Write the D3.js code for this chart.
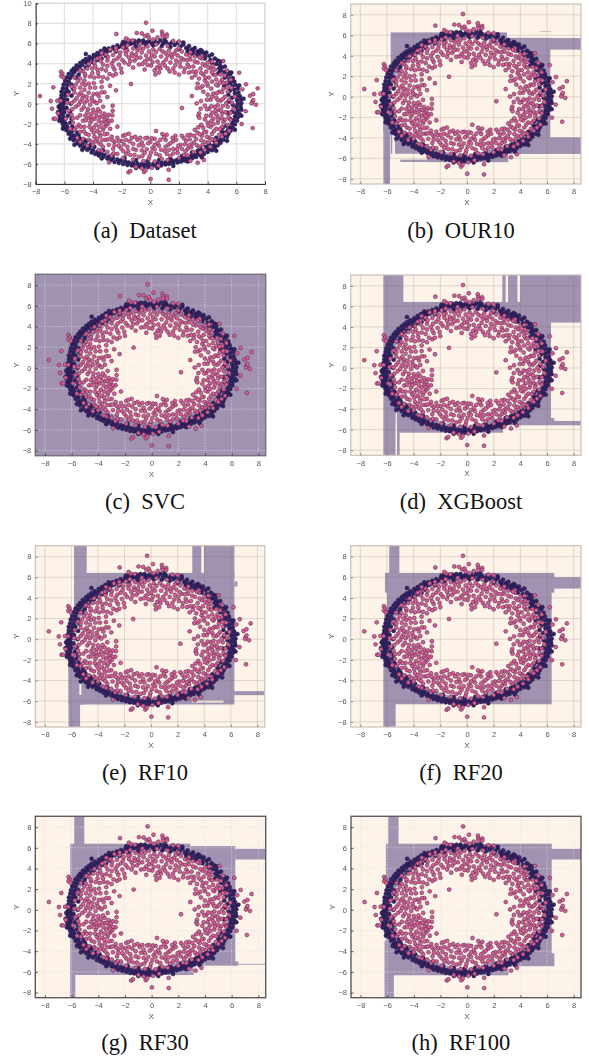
<!DOCTYPE html>
<html>
<head>
<meta charset="utf-8">
<script src="https://cdnjs.cloudflare.com/ajax/libs/d3/7.8.5/d3.min.js"></script>
<style>
  html, body { margin: 0; padding: 0; background: #fff; }
  svg { display: block; }
</style>
</head>
<body>
<div id="chart"></div>
<script>
const width = 589;
const height = 1059;

const darkFill = "#33215f";
const pinkFill = "#d65f92";
const purple = "#a092b0";
const cream = "#fdf3e8";

// points, the same set is in every panel
const darkRing = [
[-0.1,6.2],[0.1,6.0],[0.3,6.25],[0.5,6.05],[0.7,6.3],[0.9,6.0],[1.1,6.15],[1.3,5.9],[1.5,6.1],[1.7,5.85],[1.9,6.05],[2.1,5.7],[2.3,5.9],[2.5,5.55],[2.7,5.75],[2.9,5.4],[3.1,5.55],[3.3,5.2],[3.5,5.35],[3.7,5.0],[3.9,5.1],[4.1,4.75],[4.3,4.9],[4.5,4.5],[4.2,4.35],[3.8,4.8],[3.4,5.05],[3.0,5.2],[2.6,5.4],[4.7,4.3],[4.6,3.95],[4.85,3.85],[5.0,3.6],[5.2,3.7],[4.9,3.3],[5.15,3.15],[5.4,3.2],[5.3,2.8],[5.55,2.9],[5.5,2.45],[5.75,2.55],[5.6,2.1],[5.85,2.2],[5.7,1.75],[5.95,1.85],[5.85,1.4],[6.1,1.5],[5.9,1.05],[6.15,1.1],[6.0,0.7],[6.25,0.75],[6.05,0.35],[6.3,0.4],[6.1,0.0],[6.35,0.05],[6.0,-0.3],[6.3,-0.3],[6.1,-0.65],[6.35,-0.6],[5.95,-0.95],[6.2,-1.0],[5.9,-1.3],[6.1,-1.35],[5.8,-1.65],[6.05,-1.7],[5.7,-2.0],[5.9,-2.05],[5.55,-2.35],[5.75,-2.4],[5.4,-2.65],[5.6,-2.7],[5.2,-2.9],[5.45,-3.0],[5.1,-3.25],[5.35,-3.3],[4.9,-3.55],[5.1,-3.6],[4.7,-3.8],[4.9,-3.9],[4.5,-4.05],[4.7,-4.15],[4.3,-4.25],[4.5,-4.4],[4.1,-4.5],[4.3,-4.65],[3.85,-4.6],[4.0,-4.8],[3.6,-4.8],[3.75,-5.0],[3.35,-4.95],[3.5,-5.15],[3.1,-5.1],[3.2,-5.3],[2.85,-5.2],[2.95,-5.4],[2.6,-5.35],[2.7,-5.55],[2.35,-5.45],[2.4,-5.65],[2.1,-5.5],[2.15,-5.75],[1.85,-5.6],[1.9,-5.85],[1.6,-5.7],[1.6,-5.95],[1.35,-5.8],[1.3,-6.0],[1.05,-5.85],[1.05,-6.05],[0.8,-5.9],[0.75,-6.15],[0.5,-5.95],[0.45,-6.2],[0.2,-6.0],[0.15,-6.25],[-0.1,-6.0],[-0.15,-6.3],[-0.35,-6.05],[-0.45,-6.3],[-0.6,-6.0],[-0.75,-6.25],[-0.9,-5.95],[-1.05,-6.2],[-1.2,-5.9],[-1.3,-6.15],[-1.5,-5.85],[-1.6,-6.1],[-1.75,-5.75],[-1.9,-6.0],[-2.05,-5.65],[-2.2,-5.9],[-2.3,-5.55],[-2.5,-5.8],[-2.6,-5.4],[-2.75,-5.6],[-2.9,-5.25],[-3.0,-5.45],[-3.2,-5.1],[-3.3,-5.3],[-3.45,-4.95],[-3.6,-5.15],[-3.7,-4.8],[-3.85,-5.0],[-4.0,-4.65],[-4.1,-4.85],[-4.25,-4.45],[-4.4,-4.6],[-4.5,-4.25],[-4.65,-4.4],[-4.75,-4.0],[-4.9,-4.2],[-5.0,-3.8],[-5.1,-3.95],[-5.2,-3.5],[-5.35,-3.65],[-5.3,-3.2],[-5.5,-3.3],[-5.5,-2.9],[-5.7,-3.0],[-5.65,-2.6],[-5.85,-2.65],[-5.8,-2.3],[-6.05,-2.35],[-5.9,-2.0],[-6.1,-2.05],[-6.0,-1.7],[-6.2,-1.75],[-6.05,-1.4],[-6.3,-1.45],[-6.1,-1.1],[-6.35,-1.15],[-6.0,-0.85],[-6.25,-0.8],[-6.45,-0.85],[-6.05,-0.5],[-6.3,-0.5],[-6.1,-0.2],[-6.3,-0.15],[-6.0,0.1],[-6.2,0.15],[-6.05,0.45],[-6.25,0.5],[-5.95,0.8],[-6.2,0.85],[-5.95,1.15],[-6.2,1.2],[-5.85,1.5],[-6.1,1.55],[-5.8,1.85],[-6.05,1.9],[-5.7,2.2],[-5.95,2.25],[-5.6,2.55],[-5.85,2.6],[-5.45,2.85],[-5.7,2.95],[-5.3,3.15],[-5.5,3.25],[-5.15,3.4],[-5.35,3.5],[-4.95,3.65],[-5.15,3.8],[-4.75,3.85],[-4.9,4.05],[-4.5,4.1],[-4.7,4.25],[-4.3,4.3],[-4.5,4.45],[-4.5,4.95],[-4.05,4.5],[-4.25,4.65],[-3.8,4.7],[-3.95,4.85],[-3.55,4.85],[-3.7,5.05],[-3.3,5.0],[-3.45,5.25],[-3.05,5.15],[-3.15,5.35],[-2.8,5.3],[-2.9,5.5],[-2.5,5.45],[-2.6,5.65],[-2.25,5.6],[-2.3,5.8],[-2.0,5.7],[-1.95,5.95],[-1.7,5.85],[-1.7,6.1],[-1.4,5.95],[-1.4,6.2],[-1.15,6.0],[-1.1,6.25],[-0.85,6.05],[-0.8,6.3],[-0.55,6.05],[-0.5,6.3],[-0.3,6.1]
];
const darkInner = [
[0.2,5.8],[0.8,5.75],[1.4,5.65],[2,5.45],[2.6,5.15],[3.2,4.85],[3.8,4.5],[4.3,4.05],[4.8,3.5],[5.2,2.6],[5.4,2],[5.55,1.3],[5.7,0.6],[5.75,-0.1],[5.7,-0.8],[5.55,-1.5],[5.3,-2.2],[5,-2.8],[4.6,-3.4],[4.1,-4],[3.5,-4.5],[2.9,-4.85],[2.2,-5.2],[1.4,-5.45],[0.6,-5.6],[-0.2,-5.7],[-1,-5.6],[-1.8,-5.4],[-2.6,-5.05],[-3.3,-4.65],[-3.9,-4.3],[-4.5,-3.8],[-5,-3.2],[-5.3,-2.6],[-5.6,-1.9],[-5.75,-1.2],[-5.85,-0.4],[-5.8,0.4],[-5.7,1.2],[-5.5,1.9],[-5.2,2.6],[-4.8,3.3],[-4.3,3.85],[-3.7,4.35],[-3.1,4.75],[-2.4,5.2],[-1.7,5.5],[-1,5.7],[-0.3,5.85],
[-4.9,-3.5],[-4.6,-3.6],[-4.2,-4.15],[-5.1,-2.9],[-5.45,-2.3],[-5.5,-1.5],[-5.6,-0.8],[-5.55,0],[-5.5,0.8],[-5.4,1.5],[-5.0,2.9],[-4.5,3.6],[-4.0,4.1],[-3.4,4.5],[5.45,0.2],[5.4,-0.9],[5.45,0.9],[5.15,1.8],[5.05,-2.4],[4.75,3.05],[4.4,-3.65],[3.9,-4.3],[3.3,-4.7],[3.45,4.65],[2.9,5.0],[-6.4,-0.3],[-6.35,-1.7],[-6.1,-2.5],[-5.3,-4.1],[-5.6,-3.5],[-4.75,-4.6],[-3.4,-5.45],[-1.0,-6.4],[0.5,-6.4],[1.6,-6.2],[2.6,-5.75],[3.6,-5.35],[4.6,-4.7],[5.35,-3.7],[5.9,-2.6],[6.35,-1.2],[6.5,0.5],[6.2,1.8],[5.65,3.1],[4.9,4.2],[3.6,5.25],[2.3,6.1],[1.0,6.35],[-1.9,6.15],[-3.2,5.5]
];

const pinkOutliers = [
[-7.7,0.76],[-6.95,0.27],[-6.86,-0.5],[-6.77,1.63],[-6.74,-1.5],[-6.63,-1.5],[-6.49,0.3],[-6.25,0.3],[-6.44,-0.96],[-6.23,3.19],[-6.14,2.96],[-6.23,2.76],[-6.07,2.62],[6.95,0.8],[7.18,0.96],[7.49,1.53],[6.67,1.93],[6.42,1.43],[6.2,3.09],[6.65,-0.76],[6.37,-2.03],[7.14,-2.43],[7.12,0.2],[7.07,0.03],[7.18,0.37],[7.37,-0.1],[5.09,4.25],
[-0.3,8.07],[-2.37,6.94],[-0.95,7.04],[-0.6,7.0],[-0.37,6.74],[-0.19,6.84],[0.14,7.27],[0.81,7.18],[0.84,6.9],[1.14,6.9],[1.14,6.7],[0.86,6.7],[0.5,6.6],[-0.1,6.55],[0.2,6.4],[-1.55,6.35],[-1.7,6.5],[-1.25,6.3],[1.6,6.25],[2.0,6.2],
[0.02,-7.5],[1.28,-7.57],[1.28,-6.58],[-1.53,-6.84],[-1.4,-6.71],[-0.44,-6.81],[-0.33,-6.64],[0.1,-6.38],[0.56,-6.18],[3.3,-5.88],[3.74,-5.61],[-2.88,-5.85],[-4.9,-3.8],[-1.0,-6.3],[-0.6,-6.45],[2.8,-5.7],
[-1.35,1.96],[2.2,-0.43],[2.9,0.76],[-2.4,1.33],[-2.81,1.79],[-3.2,1.13],[-3.4,1.13],[-3.0,0.66],[-2.3,-2.29],[-2.63,-0.2],[-2.63,-0.7],[-2.65,-1.16],[-2.7,-1.69],[3.23,0.03],[3.53,0.27],[3.51,-0.5],[3.4,-0.96],[3.35,-1.2],[3.42,-1.4],[0.4,-2.72],[0.84,-3.02],[1.14,-3.1],[1.07,-3.62],[1.58,-3.75]
];
const pinkBand = [
[-2.8,5.4],[-2.4,5.3],[-2.1,5.1],[-1.9,5.6],[-1.7,4.9],[-1.6,5.3],[-1.5,4.6],[-1.3,5.0],[-1.2,5.5],[-1.1,4.3],[-1.0,4.9],[-0.9,5.3],[-0.8,3.9],[-0.7,4.6],[-0.6,5.1],[-0.5,5.5],[-0.4,4.2],[-0.4,3.4],[-0.3,4.8],[-0.2,5.7],[-0.1,5.2],[0,4.5],[0.05,3.8],[0.1,4.9],[0.2,5.4],[0.3,3.3],[0.35,2.9],[0.45,3.6],[0.5,4.2],[0.6,3.1],[0.7,3.5],[0.75,4.7],[0.85,5.2],[0.9,4.1],[1.0,3.8],[1.1,4.4],[1.2,4.8],[1.3,5.3],[1.4,4.1],[1.5,4.6],[1.6,3.5],[1.65,5],[1.7,3.1],[1.8,4.3],[1.9,4.8],[2.0,2.9],[2.1,3.7],[2.2,5.2],[2.3,4.4],[2.4,3.5],[2.5,4.9],[2.6,3.9],[2.7,3.1],[2.8,4.4],[2.9,2.6],[3.0,3.7],[3.1,4.7],[3.2,3.2],[3.3,4.1],[3.4,2.5],[3.5,3.5],[3.6,4.5],[3.7,2.9],[3.8,3.8],[3.9,3.2],[4,4.1],[4.1,2.6],[4.2,3.5],[4.3,2.2],[4.4,2.9],[4.5,3.4],[4.6,2.4],[4.7,1.8],
[-3.9,4.1],[-3.5,4.6],[-3.7,3.4],[-3.3,3.9],[-3,4.3],[-3.1,3.3],[-2.7,4],[-2.5,3.4],[-2.3,4.5],[-2.6,2.8],[-2.2,3.9],[-2,3.1],[-1.8,4.1],[-1.5,3.9],[-1.2,3.6],[-4.7,3.2],[-4.4,3.5],[-4.2,2.7],[-3.9,2.6],[-3.6,2.7],[-3.4,2.2],[-3.0,2.5],[-4.9,2.5],[-4.6,2.3],[-4.3,2.0],[-5.2,1.9],[-4.9,1.6],[-4.6,1.4],[-5.3,1.1],[-5.0,0.9],[-4.7,0.8],[-4.3,1.1],[-4.1,0.6],[-3.7,1.0],[-4.9,0.2],[-4.6,0.1],[-4.2,-0.1],[-5.3,0.3],[-3.9,0.2],[-3.5,0.3],[-3.3,-0.3],[-5.2,-0.3],[-4.8,-0.6],[-4.4,-0.9],[-4.1,-1.0],[-3.8,-0.9],[-3.5,-0.8],[-3.2,-1.0],[-2.9,-1.1],[-5.5,-1.1],[-5.1,-1.4],[-4.7,-1.7],[-4.3,-1.4],[-3.9,-1.5],[-3.5,-1.3],[-3.2,-1.6],[-2.9,-1.7],[-5.4,-1.9],[-5.0,-2.1],[-4.6,-2.3],[-4.2,-1.9],[-3.8,-2.1],[-3.4,-1.9],[-3.1,-2.2],[-2.8,-2.5],[-5.3,-2.6],[-4.9,-2.8],[-4.5,-3.0],[-4.1,-2.6],[-3.7,-2.7],[-3.3,-2.6],[-3.0,-3.0],[-4.7,-3.5],[-4.3,-3.6],[-3.9,-3.3],[-3.5,-3.2],[-3.1,-3.6],[-2.7,-3.3],[-4.0,-4.1],[-3.6,-3.9],[-3.3,-4.3],[-2.9,-4.1],[-2.5,-3.8],[-2.3,-3.4],[-3.4,-4.7],[-3.0,-4.8],[-2.6,-4.5],[-2.2,-4.2],[-2.0,-3.7],[-1.9,-3.2],[-2.3,-5.0],[-1.9,-4.7],[-1.6,-4.3],[-1.7,-3.6],[-1.5,-3.0],[-1.3,-3.4],[-1.2,-4.0],[-1.4,-5.1],[-1.0,-4.6],[-0.9,-3.6],[-0.7,-3.4],[-0.8,-5.3],[-0.5,-4.2],[-0.4,-4.9],[-0.2,-3.4],[-0.1,-5.5],[0,-3.8],[0.15,-4.4],[0.3,-3.5],[0.4,-5.0],[0.6,-4.2],[0.7,-3.6],[0.8,-5.5],[1,-4.7],[1.25,-4.1],[1.4,-5.2],[1.6,-4.5],[1.8,-3.6],[1.9,-4.9],[2.1,-4.1],[2.2,-3.2],[2.35,-5.1],[2.5,-3.7],[2.6,-4.5],[2.8,-3.1],[2.9,-4.0],[3.0,-4.8],[3.2,-3.5],[3.3,-2.9],[3.4,-4.3],[3.6,-3.2],[3.7,-2.4],[3.8,-3.8],[3.9,-2.8],[4.0,-1.9],[4.1,-3.4],[4.2,-2.3],[4.3,-3.0],[4.4,-1.5],[4.5,-3.6],[4.6,-2.5],[4.7,-1.9],[4.8,-3.1],[5.0,-2.3],[4.3,-0.9],[4.5,-0.3],[4.1,-0.5],[3.9,-1.2],[3.8,-0.2],[4.2,0.4],[4.0,0.9],[4.4,1.0],[3.7,1.2],[4.0,1.8],[3.5,1.6],[3.3,2.0],[3.8,2.3],[4.6,0.6],[4.8,1.2],[4.9,0.3],[4.8,-0.6],[5.0,-1.0],[4.7,-1.3],[5.2,-1.6],[5.2,0.7],[5.1,1.5],[5.3,2.1],[5.0,2.4],[4.9,2.9],[5.4,1.2],[5.5,0.4],[5.4,-0.3],[5.6,-0.9],[5.4,-2.1],[5.65,1.6],[5.6,2.4],[5.2,2.8],[5.35,3.3],[5.7,0.1],[5.8,-0.5],[5.9,0.7],[5.6,-1.6],[5.5,-2.7],[5.25,-3.0],[5.0,-3.3],[4.6,-3.9],[4.2,-4.3],[3.8,-4.6],[3.5,-4.85],[2.6,-5.15],[2.0,-5.4],[1.2,-5.6],[0.3,-5.75],[-0.5,-5.7],[-1.2,-5.55],[-1.9,-5.4],[-2.7,-5.15],[-3.6,-4.6],[-4.4,-4.2],[-5.1,-3.4],[-5.6,-2.5],[-5.9,-1.5],[-5.7,-0.7],[-5.8,0.1],[-5.75,0.9],[-5.5,1.7],[-5.3,2.6],[-4.9,3.3],[-4.3,3.95],[-3.7,4.5],[-3.1,4.9],[-2.4,5.55],[-1.6,5.8],[-0.7,5.95],[0.4,5.9],[1.2,5.75],[2.0,5.55],[2.8,5.1],[3.6,4.75],[4.3,4.2]
];
const pinkFill2 = [
[-3.4,5.05],[-2.95,4.65],[-2.6,4.85],[-2.55,4.3],[-2.15,4.75],[-1.95,4.35],[-1.75,5.25],[-1.4,4.25],[-1.25,4.75],[-0.95,4.55],[-0.75,5.55],[-0.55,3.95],[-0.2,3.85],[-0.2,4.4],[0.15,4.15],[0.3,4.7],[0.4,5.15],[0.65,5.45],[0.65,3.8],[1.05,5.05],[1.2,3.5],[1.35,3.2],[1.45,4.9],[1.75,3.85],[1.8,5.3],[2.05,4.1],[2.15,4.55],[2.35,3.15],[2.55,4.35],[2.7,3.65],[2.75,4.75],[2.95,3.2],[3.1,4.2],[3.15,2.85],[3.45,4.6],[3.55,3.05],[3.65,3.95],[3.85,2.6],[4.05,3.65],[4.3,3.1],[4.35,3.75],[4.55,2.85],[3.95,2.05],[4.25,1.5],[3.65,1.75],[3.25,1.55],[4.6,1.9],[4.85,2.1],[5.1,2.05],[5.35,1.65],[5.0,1.15],[4.65,1.05],[4.3,0.7],[3.95,0.4],[4.7,0.35],[5.05,0.45],[5.3,0.05],[5.05,-0.25],[4.7,-0.15],[4.25,-0.25],[3.95,-0.55],[4.55,-0.7],[4.95,-0.7],[5.25,-0.85],[5.45,-1.3],[5.0,-1.45],[4.6,-1.05],[4.2,-1.2],[3.8,-1.55],[4.25,-1.75],[4.75,-1.6],[5.1,-1.85],[4.85,-2.55],[4.4,-2.05],[4.45,-2.7],[4.05,-2.2],[3.55,-2.1],[3.35,-2.35],[3.1,-2.6],[3.75,-2.85],[3.45,-3.05],[3.05,-3.2],[2.6,-3.15],[2.35,-3.45],[2.75,-3.55],[3.05,-3.85],[3.55,-3.65],[3.95,-3.3],[4.3,-3.55],[4.05,-3.85],[3.65,-4.1],[3.25,-4.15],[2.85,-4.35],[2.4,-4.05],[2.2,-4.5],[1.95,-4.2],[1.75,-3.2],[1.55,-3.4],[1.4,-3.95],[1.05,-4.3],[0.95,-3.35],[0.5,-3.9],[0.3,-4.1],[0.1,-3.45],[-0.15,-3.95],[-0.35,-3.45],[-0.6,-3.85],[-1.05,-3.3],[-1.45,-3.75],[-1.75,-3.1],[-1.85,-4.05],[-1.55,-4.7],[-1.2,-4.5],[-0.8,-4.15],[-0.6,-4.65],[-0.25,-4.55],[0.05,-4.85],[0.3,-4.55],[0.75,-4.6],[0.65,-5.15],[1.15,-5.0],[1.6,-4.95],[1.3,-4.6],[1.85,-4.55],[2.45,-4.75],[2.7,-4.15],[-0.05,-5.2],[-0.55,-5.2],[-1.1,-5.1],[-1.7,-5.0],[-2.05,-4.45],[-2.55,-4.95],[-2.5,-4.15],[-2.2,-3.75],[-2.65,-3.65],[-2.95,-3.55],[-3.35,-3.6],[-3.7,-3.5],[-3.45,-4.05],[-3.85,-3.75],[-4.15,-3.75],[-3.2,-3.05],[-3.55,-2.9],[-3.95,-2.9],[-4.3,-3.1],[-4.65,-2.75],[-4.25,-2.3],[-3.95,-2.4],[-3.55,-2.3],[-3.25,-2.35],[-2.95,-2.0],[-3.1,-1.85],[-3.6,-1.7],[-3.75,-1.25],[-4.1,-1.65],[-4.5,-1.65],[-4.85,-2.3],[-5.15,-2.35],[-5.4,-1.45],[-4.9,-1.15],[-4.55,-1.2],[-4.15,-1.3],[-3.35,-1.25],[-3.05,-1.35],[-3.65,-0.55],[-4.0,-0.6],[-4.35,-0.55],[-4.65,-0.35],[-5.0,-0.1],[-5.45,-0.55],[-5.5,0.05],[-5.15,0.55],[-4.75,0.5],[-4.4,0.3],[-4.05,0.3],[-3.75,0.05],[-3.6,0.75],[-3.95,0.95],[-4.45,0.7],[-4.85,1.1],[-5.3,1.5],[-4.55,1.85],[-4.2,1.6],[-3.85,1.6],[-3.4,1.65],[-3.95,2.05],[-4.75,2.0],[-5.05,2.25],[-4.55,2.75],[-4.05,3.05],[-3.65,3.05],[-3.3,2.65],[-2.85,2.95],[-2.4,2.95],[-2.05,3.5],[-2.6,3.65],[-3.0,3.75],[-3.4,3.45],[-4.05,3.5],[-4.55,2.95],[-3.45,4.25],[-3.85,3.75]
];

// axes limits and ticks per panel group
const ticksX = [-8, -6, -4, -2, 0, 2, 4, 6, 8];
const ticksYa = [-8, -6, -4, -2, 0, 2, 4, 6, 8, 10];
const ticksY = [-8, -6, -4, -2, 0, 2, 4, 6, 8];
const domainXa = [-8, 8];
const domainYa = [-8, 10];
const domainX = [-8.72, 8.55];
const domainY = [-8.5, 9.05];

// inside of the ring, class 0 (cream) region
const holeTree = [[0,5.75],[2,5.4],[3,4.9],[4,4.2],[4.8,3.2],[5.4,2],[5.75,0.7],[5.75,-0.8],[5.3,-2.2],[4.8,-3.2],[3.9,-4.1],[2.8,-4.8],[1.5,-5.2],[0,-5.7],[-1.5,-5.4],[-3,-4.7],[-4,-4.1],[-4.8,-3.2],[-5.4,-2.1],[-5.7,-0.7],[-5.7,0.8],[-5.3,2.2],[-4.7,3.2],[-3.8,4.2],[-2.8,5],[-1.5,5.5]];
const holeSvc = [[0,5.4],[2,5],[3.3,4.2],[4.3,3.2],[5,2],[5.4,0.5],[5.3,-1],[4.7,-2.5],[3.8,-3.7],[2.5,-4.6],[1,-5.1],[-0.5,-5.2],[-2,-4.9],[-3.3,-4.2],[-4.3,-3.2],[-5,-2],[-5.4,-0.5],[-5.3,1],[-4.8,2.4],[-3.8,3.7],[-2.5,4.7],[-1,5.3]];

// purple boxes [x0, x1, y0, y1] and cream cuts
const boxesOur10 = [[-6.27,-5.77,-8.6,-1],[-6.27,-5.3,-3.5,1],[-5.72,3.0,-6.0,6.28],[3.0,8.6,4.6,5.73],[3.0,6.25,-5.57,5.75],[3.0,8.6,-5.57,-3.95],[-3,3.1,-6.37,-5.5],[-5,-2.9,-6.35,-6.1],[5.5,6.3,6.33,6.38]];
const cutsOur10 = [[-5.6,-5.4,-5.6,-3.6],[-5.72,-3.0,-6.1,-5.55]];
const boxesSvc = [[-8.8,8.8,-8.7,9.2]];
const cutsSvc = [];
const boxesXgb = [[-6.27,8.6,-5.58,9.1],[-6.27,-5.35,-8.6,-5.5],[-5.25,-5.05,-8.6,-5.5],[-5.25,2.7,-6.3,-5.5]];
const cutsXgb = [[-4.77,2.65,6.43,9.1],[2.9,3.08,6.4,9.1],[3.78,3.98,6.43,9.1],[6.3,8.6,-4.87,4.42],[6.55,8.6,-5.16,-4.8],[-5.35,-5.25,-8.6,-4.3]];
const boxesRf10 = [[-5.8,-4.85,2,9.1],[-5.8,6.27,-6.32,6.42],[3.1,3.78,6,9.1],[3.98,6.27,6,9.1],[6.27,6.5,5.1,5.6],[6.2,8.6,-5.42,-5.03],[-6.22,-5.35,-8.6,-1.5],[-6.22,-5.0,-6.32,-2]];
const cutsRf10 = [[3.1,5.45,-6.13,-5.95],[-5.4,-5.25,-5.4,-3.7]];
const boxesRf20 = [[-5.83,-5.07,5,9.1],[-6.15,6.55,4.5,6.42],[-6,6.35,-6.3,4.9],[6.3,8.6,4.9,6.0],[-6.27,-5.35,-8.6,-1],[-6.2,-5.3,-6.3,3]];
const cutsRf20 = [];
const boxesRf30 = [[-5.8,-5.05,6,9.1],[-6.1,2.9,-6.3,6.4],[2.9,6.27,-5.4,6.17],[6.27,8.7,4.87,5.9],[6.2,6.5,-5.4,-5.0],[6.5,8.7,-5.3,-5.22],[2.9,3.15,-6.3,-5.3],[-6.1,-5.72,-8.6,-6]];
const cutsRf30 = [];
const boxesRf100 = [[-5.92,-5.15,6,9.1],[-6.1,6.35,-4.3,6.4],[6.3,8.6,4.87,5.9],[3.1,6.55,-5.45,-4.2],[-6.1,3.1,-6.33,-4.2],[-6.2,-5.5,-8.6,-3]];
const cutsRf100 = [];

const captions = ["(a)  Dataset", "(b)  OUR10", "(c)  SVC", "(d)  XGBoost", "(e)  RF10", "(f)  RF20", "(g)  RF30", "(h)  RF100"];

const darkPoints = darkRing.concat(darkInner);
const pinkPoints = pinkOutliers.concat(pinkBand, pinkFill2);

const hard = { frame: "#c9c0b6", grid: "rgba(120,110,100,0.22)", dash: null, tick: "#777" };
const soft = { frame: "#5f5a60", grid: "rgba(225,225,225,0.6)", dash: "1.5,1.5", tick: "#333" };
const softLight = { frame: "#77727a", grid: "rgba(225,225,225,0.6)", dash: "1.5,1.5", tick: "#333" };

const panels = [
  { l: 35.7, r: 265, t: 3.3, b: 184, cap: [145, 238], boxes: null, style: { frame: "#d6d6d6", grid: "#e2e2e2", dash: null, tick: "#333" } },
  { l: 350.7, r: 581, t: 4, b: 184, cap: [461, 238], boxes: boxesOur10, cuts: cutsOur10, hole: holeTree, style: hard },
  { l: 35.3, r: 265.7, t: 274.3, b: 455.7, cap: [145, 509], boxes: boxesSvc, cuts: cutsSvc, hole: holeSvc, style: softLight },
  { l: 350.7, r: 581, t: 275, b: 455.3, cap: [461, 509], boxes: boxesXgb, cuts: cutsXgb, hole: holeTree, style: hard },
  { l: 35.3, r: 264.7, t: 545.7, b: 727, cap: [145, 780], boxes: boxesRf10, cuts: cutsRf10, hole: holeTree, style: hard },
  { l: 350.7, r: 581, t: 545.7, b: 727, cap: [461, 780], boxes: boxesRf20, cuts: cutsRf20, hole: holeTree, style: hard },
  { l: 35.3, r: 265.7, t: 816.3, b: 997.7, cap: [145, 1050], boxes: boxesRf30, cuts: cutsRf30, hole: holeTree, style: soft },
  { l: 351, r: 581, t: 816.3, b: 997.7, cap: [461, 1050], boxes: boxesRf100, cuts: cutsRf100, hole: holeTree, style: soft }
];

const svg = d3.select("#chart").append("svg")
  .attr("width", width)
  .attr("height", height)
  .style("background", "#fff");

const defs = svg.append("defs");
defs.append("filter")
  .attr("id", "soft")
  .attr("x", "-5%").attr("y", "-5%").attr("width", "110%").attr("height", "110%")
  .append("feGaussianBlur")
  .attr("stdDeviation", "0.3");

panels.forEach((p, i) => {
  const isFirst = i === 0;
  const x = d3.scaleLinear().domain(isFirst ? domainXa : domainX).range([p.l, p.r]);
  const y = d3.scaleLinear().domain(isFirst ? domainYa : domainY).range([p.b, p.t]);
  const yTicks = isFirst ? ticksYa : ticksY;

  const clipId = "clip" + i;
  defs.append("clipPath").attr("id", clipId)
    .append("rect")
    .attr("x", p.l).attr("y", p.t)
    .attr("width", p.r - p.l).attr("height", p.b - p.t);

  const g = svg.append("g").attr("filter", "url(#soft)");
  const plot = g.append("g").attr("clip-path", `url(#${clipId})`);

  plot.append("rect")
    .attr("x", p.l).attr("y", p.t)
    .attr("width", p.r - p.l).attr("height", p.b - p.t)
    .attr("fill", isFirst ? "#fff" : cream);

  if (p.boxes) {
    const drawBoxes = (rows, color) => plot.append("g")
      .selectAll("rect")
      .data(rows)
      .join("rect")
      .attr("x", d => x(d[0]))
      .attr("width", d => x(d[1]) - x(d[0]))
      .attr("y", d => y(d[3]))
      .attr("height", d => y(d[2]) - y(d[3]))
      .attr("fill", color);
    drawBoxes(p.boxes, purple);
    drawBoxes(p.cuts, cream);

    plot.append("path")
      .datum(p.hole)
      .attr("d", d3.line().x(d => x(d[0])).y(d => y(d[1])).curve(d3.curveCardinalClosed))
      .attr("fill", cream);
  }

  // grid
  plot.append("g").selectAll("line")
    .data(ticksX)
    .join("line")
    .attr("x1", d => x(d)).attr("x2", d => x(d))
    .attr("y1", p.t).attr("y2", p.b)
    .attr("stroke", p.style.grid)
    .attr("stroke-width", isFirst ? 1.2 : 1)
    .attr("stroke-dasharray", p.style.dash);
  plot.append("g").selectAll("line")
    .data(yTicks)
    .join("line")
    .attr("x1", p.l).attr("x2", p.r)
    .attr("y1", d => y(d)).attr("y2", d => y(d))
    .attr("stroke", p.style.grid)
    .attr("stroke-width", isFirst ? 1.2 : 1)
    .attr("stroke-dasharray", p.style.dash);

  // points
  plot.append("g").selectAll("circle")
    .data(darkPoints)
    .join("circle")
    .attr("cx", d => x(d[0]))
    .attr("cy", d => y(d[1]))
    .attr("r", 2)
    .attr("fill", darkFill)
    .attr("stroke", "#241a4d")
    .attr("stroke-width", 0.5);
  plot.append("g").selectAll("circle")
    .data(pinkPoints)
    .join("circle")
    .attr("cx", d => x(d[0]))
    .attr("cy", d => y(d[1]))
    .attr("r", 1.95)
    .attr("fill", pinkFill)
    .attr("stroke", "#54284f")
    .attr("stroke-width", 0.55);

  // frame
  g.append("rect")
    .attr("x", p.l).attr("y", p.t)
    .attr("width", p.r - p.l).attr("height", p.b - p.t)
    .attr("fill", "none")
    .attr("stroke", p.style.frame)
    .attr("stroke-width", i === 2 || i > 5 ? 1.4 : 1.2);

  // axes, ticks point inwards
  const bottom = d3.axisBottom(x).tickValues(ticksX).tickSize(-2.5).tickPadding(5);
  const left = d3.axisLeft(y).tickValues(yTicks).tickSize(-2.5).tickPadding(4);
  const axB = g.append("g").attr("transform", `translate(0,${p.b})`).call(bottom);
  const axL = g.append("g").attr("transform", `translate(${p.l},0)`).call(left);
  [axB, axL].forEach(ax => {
    ax.select(".domain").attr("stroke", isFirst ? "#333" : "none");
    ax.selectAll(".tick line").attr("stroke", p.style.tick).attr("stroke-width", 0.8);
    ax.selectAll(".tick text")
      .attr("fill", "#555")
      .style("font", "7.5px 'Liberation Sans', sans-serif");
  });

  g.append("text")
    .attr("x", (x.range()[0] + x.range()[1]) / 2 + (isFirst ? 0 : 1))
    .attr("y", p.b + 21)
    .attr("text-anchor", "middle")
    .attr("fill", "#555")
    .style("font", "8px 'Liberation Sans', sans-serif")
    .text("X");

  g.append("text")
    .attr("transform", `translate(${p.l - 16.5},${(p.t + p.b) / 2}) rotate(-90)`)
    .attr("text-anchor", "middle")
    .attr("fill", "#555")
    .style("font", "8px 'Liberation Sans', sans-serif")
    .text("Y");

  svg.append("text")
    .attr("x", p.cap[0])
    .attr("y", p.cap[1])
    .attr("text-anchor", "middle")
    .attr("fill", "#111")
    .style("font", "22.5px 'Liberation Serif', serif")
    .style("white-space", "pre")
    .text(captions[i]);
});
</script>
</body>
</html>
